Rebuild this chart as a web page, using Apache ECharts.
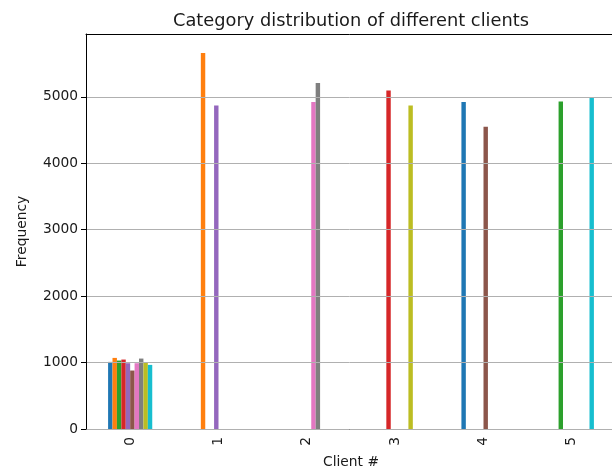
<!DOCTYPE html>
<html>
<head>
<meta charset="utf-8">
<script src="https://cdn.jsdelivr.net/npm/echarts@6/dist/echarts.min.js"></script>
<style>
  html, body { margin: 0; padding: 0; background: #fff; }
  #chart { width: 612px; height: 473px; }
</style>
</head>
<body>
<div id="chart"></div>
<script>
// Client ids along the x axis
const clients = ['0', '1', '2', '3', '4', '5'];

// Frequency of each category (0-9) per client
const cat0 = [1010, 0, 0, 0, 4920, 0];
const cat1 = [1070, 5658, 0, 0, 0, 0];
const cat2 = [1030, 0, 0, 0, 0, 4930];
const cat3 = [1045, 0, 0, 5095, 0, 0];
const cat4 = [990, 4869, 0, 0, 0, 0];
const cat5 = [880, 0, 0, 0, 4548, 0];
const cat6 = [990, 0, 4920, 0, 0, 0];
const cat7 = [1060, 0, 5206, 0, 0, 0];
const cat8 = [995, 0, 0, 4869, 0, 0];
const cat9 = [965, 0, 0, 0, 0, 4990];

const yTicks = [0, 1000, 2000, 3000, 4000, 5000];

const categorySeries = [cat0, cat1, cat2, cat3, cat4, cat5, cat6, cat7, cat8, cat9];
const palette = ['#1f77b4', '#ff7f0e', '#2ca02c', '#d62728', '#9467bd',
                 '#8c564b', '#e377c2', '#7f7f7f', '#bcbd22', '#17becf'];

const font = 'DejaVu Sans';
const ink = '#1a1a1a';
const chart = echarts.init(document.getElementById('chart'), null, { renderer: 'canvas' });

chart.setOption({
  animation: false,
  backgroundColor: '#fff',
  title: {
    text: 'Category distribution of different clients',
    left: 346, top: 7, textAlign: 'center',
    textStyle: { fontFamily: font, fontSize: 17.8, fontWeight: 'normal', color: ink }
  },
  grid: {
    left: 86, top: 34, bottom: 44, right: -4,
    outerBoundsMode: 'none',
    containLabel: false
  },
  xAxis: [{
    type: 'category',
    data: clients,
    name: 'Client #',
    nameLocation: 'middle',
    nameGap: 26,
    nameTextStyle: { fontFamily: font, fontSize: 13.8, color: ink, verticalAlign: 'top' },
    axisLine: { lineStyle: { color: '#000', width: 1 } },
    axisTick: { alignWithLabel: true, length: 5, lineStyle: { color: '#000' } },
    axisLabel: { rotate: 90, margin: 8, fontFamily: font, fontSize: 13.8, color: ink },
    splitLine: { show: false }
  }, {
    // top spine of the plot frame
    type: 'category',
    data: clients,
    position: 'top',
    axisLine: { show: true, lineStyle: { color: '#000', width: 1 } },
    axisTick: { show: false },
    axisLabel: { show: false },
    splitLine: { show: false }
  }],
  yAxis: {
    type: 'value',
    min: 0, max: 5945, interval: 1000,
    z: 5,
    name: 'Frequency',
    nameLocation: 'middle',
    nameGap: 57,
    nameRotate: 90,
    nameTextStyle: { fontFamily: font, fontSize: 13.8, color: ink },
    axisLine: { show: true, lineStyle: { color: '#000', width: 1 } },
    axisTick: { show: true, length: 5, customValues: yTicks, lineStyle: { color: '#000' } },
    axisLabel: {
      customValues: yTicks, margin: 8, fontFamily: font, fontSize: 13.8, color: ink,
      formatter: v => String(v)
    },
    splitLine: { show: true, lineStyle: { color: '#b0b0b0', width: 1 } }
  },
  series: categorySeries.map((vals, i) => ({
    name: String(i),
    type: 'bar',
    xAxisIndex: 0,
    data: vals,
    barGap: '0%',
    barCategoryGap: '50%',
    itemStyle: { color: palette[i] }
  }))
});
</script>
</body>
</html>
